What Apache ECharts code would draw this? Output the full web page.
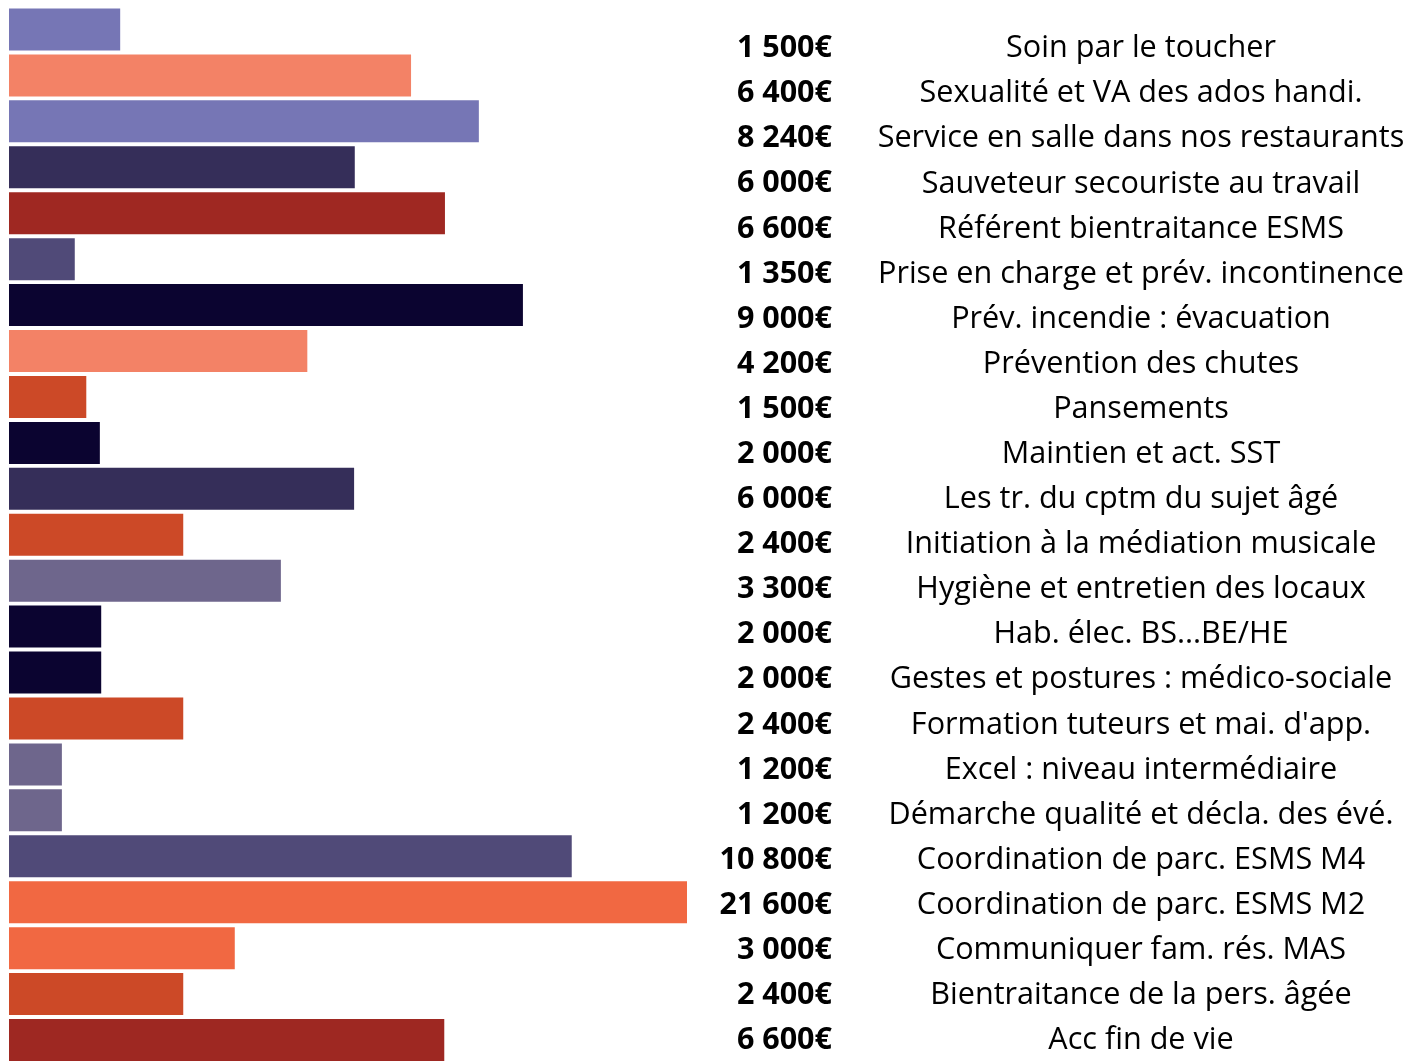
<!DOCTYPE html>
<html><head><meta charset="utf-8">
<script src="https://cdn.jsdelivr.net/npm/echarts@6/dist/echarts.min.js"></script>
<style>html,body{margin:0;padding:0;background:#fff}#c{width:1424px;height:1063px}</style>
</head><body><div id="c"></div>
<script>
const categories = ["Soin par le toucher","Sexualité et VA des ados handi.","Service en salle dans nos restaurants","Sauveteur secouriste au travail","Référent bientraitance ESMS","Prise en charge et prév. incontinence","Prév. incendie : évacuation","Prévention des chutes","Pansements","Maintien et act. SST","Les tr. du cptm du sujet âgé","Initiation à la médiation musicale","Hygiène et entretien des locaux","Hab. élec. BS...BE/HE","Gestes et postures : médico-sociale","Formation tuteurs et mai. d'app.","Excel : niveau intermédiaire","Démarche qualité et décla. des évé.","Coordination de parc. ESMS M4","Coordination de parc. ESMS M2","Communiquer fam. rés. MAS","Bientraitance de la pers. âgée","Acc fin de vie"];
const costs = [1500,6400,8240,6000,6600,1350,9000,4200,1500,2000,6000,2400,3300,2000,2000,2400,1200,1200,10800,21600,3000,2400,6600];
// bar lengths (relative index, longest = 100)
const barValues = [16.4,59.3,69.3,51.0,64.3,9.7,75.8,44.0,11.4,13.4,50.9,25.7,40.1,13.6,13.6,25.7,7.8,7.8,83.0,100,33.3,25.7,64.2];
const barColors = ["#7676b5","#f38266","#7676b5","#352e59","#9f2822","#504a78","#0b0430","#f38266","#cc4927","#0b0430","#352e59","#cc4927","#6e668c","#0b0430","#0b0430","#cc4927","#6e668c","#6e668c","#504a78","#f16842","#f16842","#cc4927","#9e2822"];

function fmt(n){ return String(n).replace(/\B(?=(\d{3})+(?!\d))/g, ' ') + '€'; }

const chart = echarts.init(document.getElementById('c'), null, {renderer:'canvas'});
const labelGridTop = 26, labelGridHeight = 1046;
chart.setOption({
  animation:false,
  grid:[
    {left:9, width:678, top:6.5, height:1059},
    {left:832, width:10, top:labelGridTop, height:labelGridHeight},
    {left:1141, width:10, top:labelGridTop, height:labelGridHeight}
  ],
  xAxis:[
    {gridIndex:0, type:'value', min:0, max:100, show:false},
    {gridIndex:1, type:'value', min:0, max:1, show:false},
    {gridIndex:2, type:'value', min:0, max:1, show:false}
  ],
  yAxis:[
    {gridIndex:0, type:'category', inverse:true, data:categories, show:false},
    {gridIndex:1, type:'category', inverse:true, data:costs.map(fmt),
     axisLine:{show:false}, axisTick:{show:false}, splitLine:{show:false},
     axisLabel:{margin:0, align:'right', verticalAlign:'middle',
       fontFamily:'Open Sans', fontWeight:'bold', fontSize:30.5, color:'#000'}},
    {gridIndex:2, type:'category', inverse:true, data:categories,
     axisLine:{show:false}, axisTick:{show:false}, splitLine:{show:false},
     axisLabel:{inside:true, margin:0, align:'center', verticalAlign:'middle',
       fontFamily:'Open Sans', fontSize:30.6, color:'#000'}}
  ],
  series:[
    {type:'bar', xAxisIndex:0, yAxisIndex:0, barWidth:42,
     data: barValues.map((v,i)=>({value:v, itemStyle:{color:barColors[i]}}))},
    {type:'bar', xAxisIndex:1, yAxisIndex:1, data: costs.map(()=>0), silent:true},
    {type:'bar', xAxisIndex:2, yAxisIndex:2, data: categories.map(()=>0), silent:true}
  ]
});
</script></body></html>
